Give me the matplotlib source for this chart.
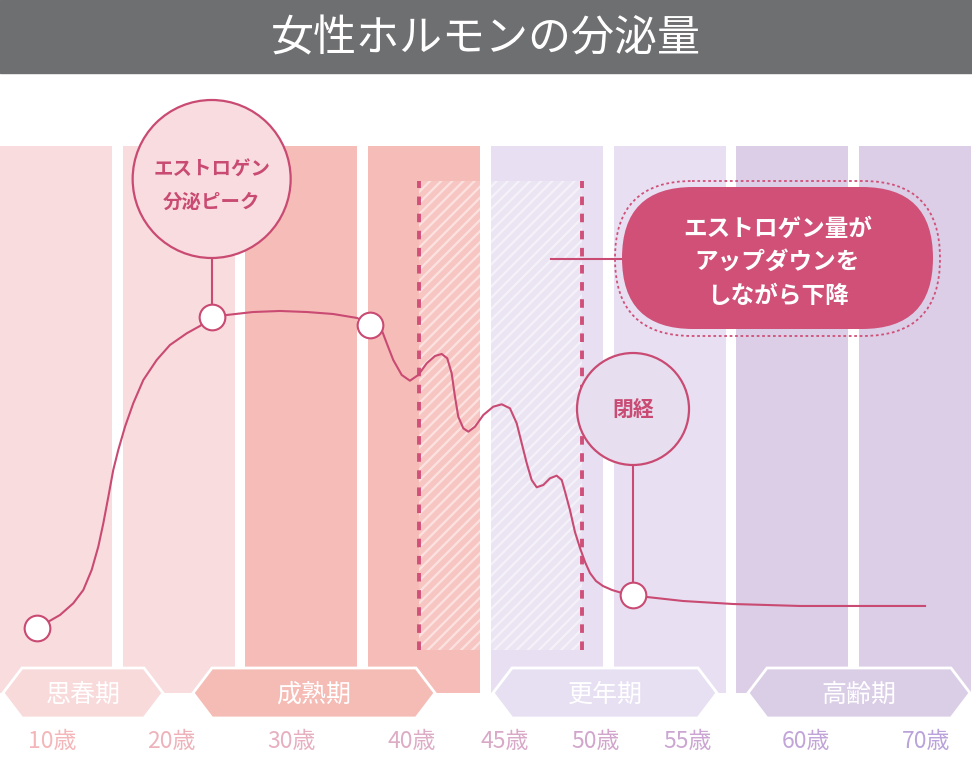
import matplotlib.pyplot as plt
from matplotlib.patches import Rectangle, Circle, Polygon, FancyBboxPatch

plt.rcParams['font.family'] = ['Noto Sans CJK JP', 'DejaVu Sans']
plt.rcParams['hatch.linewidth'] = 1.6

# data
title = "女性ホルモンの分泌量"
col_colors = ["#f9dcdd", "#f9dcdd", "#f6bdb8", "#f6bdb8",
              "#e8e0f2", "#e8e0f2", "#dbcee6", "#dbcee6"]
stage_names = ["思春期", "成熟期", "更年期", "高齢期"]
stage_colors = ["#f8dadb", "#f5bcb6", "#e7e0f2", "#dacde6"]
age_labels = ["10歳", "20歳", "30歳", "40歳", "45歳", "50歳", "55歳", "60歳", "70歳"]
age_colors = ["#f4b6b8", "#eeb3ba", "#e7b0c0", "#ddadc6", "#d9a9c8",
              "#d2a6cc", "#cba6d2", "#c2a5d8", "#b9a3da"]

# estrogen curve, x in column units, y as relative level (0-100)
curve_x = [0.299, 0.394, 0.489, 0.597, 0.679, 0.747, 0.801, 0.842, 0.883, 0.923,
           0.964, 1.019, 1.086, 1.168, 1.277, 1.385, 1.522, 1.630, 1.725,
           1.850, 2.062, 2.282, 2.502, 2.714, 2.910, 3.015,
           3.111, 3.152, 3.205, 3.274, 3.341, 3.409, 3.478, 3.545, 3.600, 3.645,
           3.681, 3.708, 3.735, 3.776, 3.817, 3.871, 3.939, 4.020, 4.089, 4.156,
           4.211, 4.252, 4.293, 4.333, 4.374, 4.428, 4.482, 4.537, 4.578, 4.605,
           4.645, 4.686, 4.727, 4.768, 4.808, 4.857, 4.914, 4.988, 5.069, 5.159,
           5.273, 5.566, 5.974, 6.520, 7.066, 7.539]
curve_y = [11.88, 13.04, 14.26, 16.40, 18.83, 22.49, 26.75, 31.02, 35.89, 40.77,
           44.43, 48.69, 52.96, 57.22, 60.88, 63.62, 65.76, 67.10, 68.80,
           69.11, 69.65, 69.84, 69.65, 69.29, 68.56, 67.28,
           66.36, 63.93, 60.88, 58.14, 57.09, 58.14, 60.28, 61.61, 61.98, 61.19,
           58.45, 54.17, 50.51, 48.39, 47.77, 48.69, 50.82, 52.34, 52.78, 52.05,
           49.31, 45.65, 41.99, 38.94, 37.61, 38.03, 39.25, 39.73, 38.94, 36.80,
           33.46, 29.43, 26.51, 23.95, 21.94, 20.48, 19.56, 18.83, 18.28, 17.92,
           17.55, 16.82, 16.27, 15.91, 15.91, 15.91]
marker_x = [0.299, 1.725, 3.015, 5.159]
marker_y = [11.88, 68.80, 67.28, 17.92]
peri_start, peri_end = 3.415, 4.743

pink = "#c94a72"

fig = plt.figure(figsize=(9.72, 7.58), dpi=100)
W, H = 972, 758

# data axes: column area
ax = fig.add_axes([0, (H - 693) / H, 971 / W, (693 - 146) / H])
ax.set_xlim(0, 971 / 122.7)
ax.set_ylim(0, 100)
ax.axis("off")
ax.bar(range(8), 100, width=112 / 122.7, align="edge", color=col_colors, linewidth=0)

# perimenopause hatch + dashed borders
ax.add_patch(Rectangle((peri_start, 7.86), peri_end - peri_start, 85.7,
                       facecolor=(1, 1, 1, 0.15), edgecolor=(1, 1, 1, 0.5),
                       hatch="///", linewidth=0, zorder=2))
ax.vlines([peri_start, peri_end], 7.86, 93.6, color="#d0507a", linewidth=2.8,
          linestyles=(0, (2.2, 2.2)), zorder=3)

# leader lines
ax.plot([marker_x[1], marker_x[1]], [marker_y[1], 79.5], color=pink, lw=1.5, zorder=3)
ax.plot([marker_x[3], marker_x[3]], [marker_y[3], 41.7], color=pink, lw=1.5, zorder=3)
ax.plot([4.491, 5.069], [79.3, 79.3], color=pink, lw=1.5, zorder=3)

ax.plot(curve_x, curve_y, color=pink, lw=1.5, zorder=4, solid_joinstyle="round")
ax.plot(marker_x, marker_y, "o", ms=18.5, mfc="white", mec=pink, mew=1.5, zorder=5)

# overlay in pixel coordinates
ov = fig.add_axes([0, 0, 1, 1], zorder=2)
ov.set_xlim(0, W)
ov.set_ylim(H, 0)
ov.axis("off")
ov.patch.set_alpha(0)

ov.add_patch(Rectangle((0, 0), W, 73, color="#6e6f71"))
ov.text(W / 2, 39, title, color="white", fontsize=31, ha="center", va="center")


def to_px(x, y):
    dx, dy = ax.transData.transform((x, y))
    return dx, H - dy


px, _ = to_px(marker_x[1], marker_y[1])
ov.add_patch(Circle((px, 179), 79, facecolor="#f9dcdf", edgecolor=pink, lw=1.6))
ov.text(px, 170, "エストロゲン", color=pink, fontsize=14, fontweight="bold", ha="center", va="center")
ov.text(px, 202, "分泌ピーク", color=pink, fontsize=14, fontweight="bold", ha="center", va="center")

px, _ = to_px(marker_x[3], marker_y[3])
ov.add_patch(Circle((px, 409), 56, facecolor="#e7dff0", edgecolor=pink, lw=1.6))
ov.text(px, 409, "閉経", color=pink, fontsize=15, fontweight="bold", ha="center", va="center")

# callout pill
ov.add_patch(FancyBboxPatch((615, 181), 325, 155, boxstyle="round,pad=0,rounding_size=77",
                            facecolor="none", edgecolor="#d05078", lw=1.3, linestyle=(0, (1.5, 1.5))))
ov.add_patch(FancyBboxPatch((622, 187), 311, 142, boxstyle="round,pad=0,rounding_size=71",
                            facecolor="#d05078", edgecolor="none"))
for ty, line in zip([229, 262, 296], ["エストロゲン量が", "アップダウンを", "しながら下降"]):
    ov.text(777.5, ty, line, color="white", fontsize=17, fontweight="bold", ha="center", va="center")

# stage badges
spans = [(3, 163), (193, 435), (493, 717), (748, 970)]
for (x0, x1), name, c in zip(spans, stage_names, stage_colors):
    pts = [(x0, 693), (x0 + 19, 668), (x1 - 19, 668), (x1, 693), (x1 - 19, 718), (x0 + 19, 718)]
    ov.add_patch(Polygon(pts, closed=True, facecolor=c, edgecolor="white", lw=2))
    ov.text((x0 + x1) / 2, 695, name, color="white", fontsize=18, ha="center", va="center")

# age labels
age_pos = [52, 171, 291, 412, 505, 596, 688, 806, 926]
for x, lab, c in zip(age_pos, age_labels, age_colors):
    ov.text(x, 742, lab, color=c, fontsize=16.5, ha="center", va="center")

fig.savefig("out.png", dpi=100)
